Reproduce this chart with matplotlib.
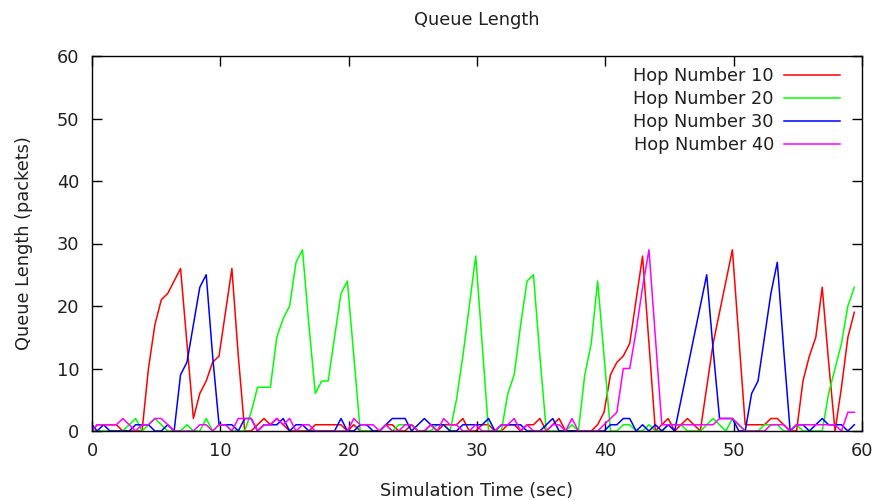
import numpy as np
import matplotlib
matplotlib.use("Agg")
import matplotlib.pyplot as plt

# sample times (sec): first point at 0, then every 0.5 s starting 0.4
time_sec = np.concatenate([[0.0], np.arange(0.4, 59.5, 0.5)])

hop10 = [0, 1, 1, 1, 1, 0, 0, 0, 0, 10,
         17, 21, 22, 24, 26, 14, 2, 6, 8, 11,
         12, 19, 26, 12, 0, 0, 1, 2, 1, 2,
         1, 0, 0, 0, 0, 1, 1, 1, 1, 1,
         0, 1, 0, 0, 0, 0, 1, 1, 0, 0,
         1, 0, 0, 1, 0, 1, 1, 1, 2, 0,
         0, 1, 1, 0, 0, 1, 1, 0, 1, 1,
         2, 0, 1, 2, 0, 0, 0, 0, 0, 1,
         3, 9, 11, 12, 14, 21, 28, 14, 0, 1,
         2, 0, 1, 2, 1, 0, 7, 14, 19, 24,
         29, 15, 1, 1, 1, 1, 2, 2, 1, 0,
         0, 8, 12, 15, 23, 11, 0, 7, 15, 19]

hop20 = [0, 0, 0, 0, 0, 0, 1, 2, 0, 1,
         2, 1, 0, 0, 0, 1, 0, 0, 2, 0,
         1, 1, 0, 0, 0, 3, 7, 7, 7, 15,
         18, 20, 27, 29, 17, 6, 8, 8, 15, 22,
         24, 12, 0, 0, 0, 0, 1, 0, 1, 1,
         1, 0, 0, 0, 1, 1, 0, 5, 12, 20,
         28, 14, 0, 0, 0, 6, 9, 17, 24, 25,
         12, 0, 0, 0, 0, 1, 0, 9, 14, 24,
         12, 0, 0, 1, 1, 0, 0, 1, 0, 0,
         1, 1, 1, 0, 0, 0, 1, 2, 1, 0,
         2, 1, 0, 0, 0, 1, 1, 1, 0, 0,
         1, 0, 0, 0, 0, 6, 10, 14, 20, 23]

hop30 = [1, 0, 1, 0, 0, 0, 0, 1, 1, 1,
         0, 0, 1, 0, 9, 11, 17, 23, 25, 12,
         1, 1, 1, 0, 2, 2, 0, 1, 1, 1,
         2, 0, 1, 1, 0, 0, 0, 0, 0, 2,
         0, 0, 1, 1, 0, 0, 1, 2, 2, 2,
         0, 1, 2, 1, 1, 1, 0, 0, 1, 1,
         1, 1, 2, 0, 1, 1, 1, 1, 0, 0,
         0, 1, 2, 0, 0, 0, 0, 0, 0, 0,
         0, 1, 1, 2, 2, 0, 1, 0, 1, 0,
         1, 0, 5, 10, 15, 20, 25, 13, 2, 2,
         2, 0, 0, 6, 8, 15, 22, 27, 13, 0,
         1, 1, 0, 1, 2, 1, 1, 1, 0, 1]

hop40 = [0, 1, 1, 1, 1, 2, 1, 0, 1, 1,
         2, 2, 1, 0, 0, 0, 0, 1, 1, 0,
         1, 1, 0, 2, 2, 2, 0, 1, 1, 2,
         1, 2, 0, 1, 1, 0, 0, 0, 0, 0,
         0, 2, 1, 1, 1, 0, 1, 0, 0, 1,
         1, 0, 0, 1, 0, 2, 1, 1, 0, 0,
         1, 0, 0, 0, 1, 1, 2, 0, 1, 0,
         0, 0, 1, 1, 0, 2, 0, 0, 0, 0,
         1, 2, 3, 10, 10, 16, 23, 29, 15, 1,
         1, 1, 1, 1, 1, 1, 1, 1, 2, 2,
         2, 1, 0, 0, 0, 0, 1, 1, 1, 0,
         1, 1, 1, 1, 1, 1, 1, 0, 3, 3]

series = [("Hop Number 10", hop10, "#ff0000"),
          ("Hop Number 20", hop20, "#00ff00"),
          ("Hop Number 30", hop30, "#0000ff"),
          ("Hop Number 40", hop40, "#ff00ff")]

plt.rcParams['font.family'] = ['DejaVu Sans']
fs = 12.8
txt = '#202020'

fig = plt.figure(figsize=(8.78, 5.0), dpi=100)
ax = fig.add_axes([92 / 878, 1 - 431 / 500, 770 / 878, 375 / 500])

for name, vals, col in series:
    ax.plot(time_sec, vals, color=col, lw=1.1, label=name)

ax.set_xlim(0, 60)
ax.set_ylim(0, 60)
ax.set_xticks(range(0, 61, 10))
ax.set_yticks(range(0, 61, 10))
ax.tick_params(direction='in', length=7, width=1, top=True, right=True,
               labelsize=fs, labelcolor=txt)
ax.tick_params(axis='x', pad=8)
ax.tick_params(axis='y', pad=9)
for s in ax.spines.values():
    s.set_linewidth(1)

ax.set_title("Queue Length", fontsize=fs, color=txt, pad=22)
ax.set_xlabel("Simulation Time (sec)", fontsize=fs, color=txt, labelpad=16)
ax.set_ylabel("Queue Length (packets)", fontsize=fs, color=txt, labelpad=17)

leg = ax.legend(loc='upper right', bbox_to_anchor=(0.9805, 0.99),
                frameon=False, markerfirst=False, fontsize=fs,
                handlelength=3.15, labelspacing=0.28, borderaxespad=0,
                handletextpad=0.56)
for t in leg.get_texts():
    t.set_color(txt)

fig.savefig("out.png", dpi=100)
